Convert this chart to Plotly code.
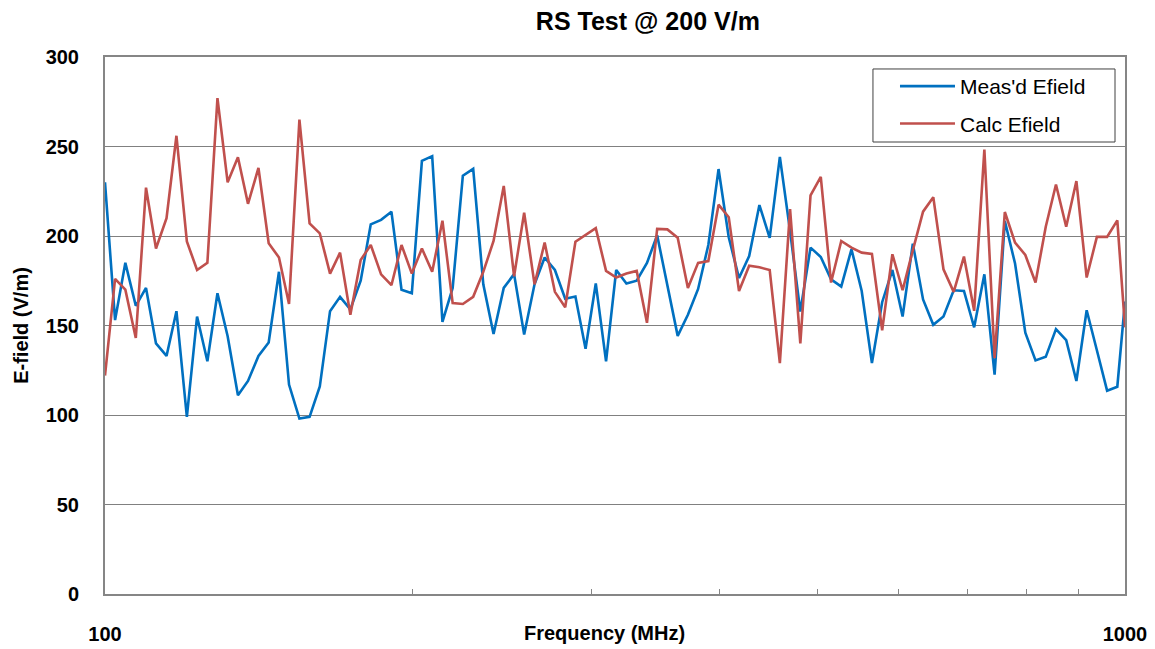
import plotly.graph_objects as go

freq_mhz = [100.0, 102.3, 104.7, 107.2, 109.7, 112.2, 114.9, 117.5, 120.3, 123.1,
            126.0, 128.9, 131.9, 135.0, 138.1, 141.4, 144.7, 148.1, 151.5, 155.1,
            158.7, 162.4, 166.2, 170.0, 174.0, 178.1, 182.2, 186.5, 190.9, 195.3,
            199.9, 204.5, 209.3, 214.2, 219.2, 224.3, 229.6, 234.9, 240.4, 246.0,
            251.8, 257.6, 263.7, 269.8, 276.1, 282.6, 289.2, 295.9, 302.8, 309.9,
            317.1, 324.5, 332.1, 339.9, 347.8, 355.9, 364.3, 372.8, 381.5, 390.4,
            399.5, 408.8, 418.4, 428.1, 438.1, 448.4, 458.8, 469.5, 480.5, 491.7,
            503.2, 515.0, 527.0, 539.3, 551.9, 564.8, 578.0, 591.5, 605.3, 619.4,
            633.9, 648.7, 663.8, 679.3, 695.2, 711.4, 728.0, 745.0, 762.4, 780.2,
            798.5, 817.1, 836.2, 855.7, 875.7, 896.1, 917.1, 938.5, 960.4, 982.8,
            1000.0]

meas_efield = [230, 153, 185, 161, 171, 140, 133, 158, 99, 155,
               130, 168, 144, 111, 119, 133, 140.5, 180, 117, 98,
               99, 116, 158, 166, 159, 175, 206.5, 209, 213.6, 170,
               168, 242, 244.6, 152, 171, 233.7, 237.5, 173, 145.3, 171,
               178.7, 145, 173, 188, 181, 165, 166.2, 137, 173.5, 130,
               181, 173.5, 175, 185, 200.4, 173, 144.2, 156, 170.4, 195,
               237.4, 199.3, 176.5, 188.8, 217.3, 199, 244.2, 202.8, 157.8, 193.5,
               188.3, 175.8, 171.7, 192.6, 169.3, 129, 163, 181, 155, 195.7,
               164.6, 150.4, 155, 169.7, 169.3, 149, 178.6, 122.5, 208.4, 184.6,
               146, 130.5, 132.5, 148, 141.8, 119, 158.5, 136.2, 113.6, 115.8,
               163.4]

calc_efield = [122, 176, 170, 143, 227, 193, 210, 256, 197, 181,
               185, 277, 230, 244, 218, 238, 196, 188, 162, 265,
               207, 201.5, 179, 190.7, 156, 186.6, 195, 178.6, 172.5, 195,
               179, 193, 180, 208.5, 162.5, 162, 166, 180, 197.2, 228,
               177.5, 213, 173, 196.3, 168.8, 160.2, 196.8, 200.7, 204.4, 180.5,
               176.8, 179, 180.5, 151.5, 204, 203.7, 199, 171, 185, 186,
               217.5, 210.5, 169.3, 183.4, 182.5, 181, 129, 215, 140, 222.7,
               233, 174, 197.2, 193.5, 190.7, 190, 147.3, 189.8, 169.7, 192,
               213.6, 221.7, 181.4, 168.8, 188.5, 158.2, 248.3, 131.8, 213.4, 196.3,
               189.4, 174, 205.2, 228.8, 205.2, 230.7, 176.8, 199.5, 199.5, 208.7,
               149]

x_tick_vals = [100, 1000]
x_tick_text = ["100", "1000"]
x_minor_vals = [200, 300, 400, 500, 600, 700, 800, 900]
y_tick_vals = [0, 50, 100, 150, 200, 250, 300]

FONT = "Arial, 'Liberation Sans', sans-serif"
GRAY = "#868686"

fig = go.Figure()
fig.add_trace(go.Scatter(x=freq_mhz, y=meas_efield, mode="lines", name="Meas'd Efield",
                         line=dict(color="#0070C0", width=2.6), legendgroup="a"))
fig.add_trace(go.Scatter(x=freq_mhz, y=calc_efield, mode="lines", name="Calc Efield",
                         line=dict(color="#C0504D", width=2.6), legendgroup="b"))

fig.update_layout(
    width=1155, height=649,
    margin=dict(l=97, r=38, t=49, b=55),
    paper_bgcolor="white", plot_bgcolor="white",
    font=dict(family=FONT, color="black"),
    title=dict(text="RS Test @ 200 V/m", x=0.554, xanchor="center",
               y=0.98, yanchor="middle",
               font=dict(size=25, family=FONT, weight="bold")),
    showlegend=True,
    legend=dict(x=0.7745, y=0.9832, xanchor="left", yanchor="top",
                bgcolor="rgba(0,0,0,0)", borderwidth=0,
                font=dict(size=21, family=FONT), itemwidth=55,
                tracegroupgap=7, traceorder="grouped"),
    shapes=[dict(type="rect", xref="paper", yref="paper",
                 x0=0.7529, x1=0.9902, y0=0.8417, y1=0.9777,
                 line=dict(color="#404040", width=1), fillcolor="white",
                 layer="above")],
    xaxis=dict(type="log", range=[2, 3], tickvals=x_tick_vals, ticktext=x_tick_text,
               ticks="", showgrid=False, zeroline=False,
               showline=True, linecolor=GRAY, linewidth=2, mirror=True,
               tickfont=dict(size=20, family=FONT, color="black", weight="bold"),
               ticklabelstandoff=21,
               minor=dict(tickvals=x_minor_vals, ticks="inside", ticklen=5,
                          tickcolor=GRAY, tickwidth=1, showgrid=False)),
    yaxis=dict(range=[0, 300], tickvals=y_tick_vals, ticks="",
               showgrid=True, gridcolor="#808080", gridwidth=1, zeroline=False,
               showline=True, linecolor=GRAY, linewidth=2, mirror=True,
               tickfont=dict(size=20, family=FONT, color="black", weight="bold"),
               ticklabelstandoff=20),
    annotations=[
        dict(text="Frequency (MHz)", xref="paper", yref="paper",
             x=0.49, y=-0.073, xanchor="center", yanchor="middle",
             showarrow=False, font=dict(size=20, family=FONT, weight="bold")),
        dict(text="E-field (V/m)", xref="paper", yref="paper",
             x=-0.083, y=0.5, xanchor="center", yanchor="middle", textangle=-90,
             showarrow=False, font=dict(size=20, family=FONT, weight="bold")),
    ],
)

fig.write_html("out.html")
